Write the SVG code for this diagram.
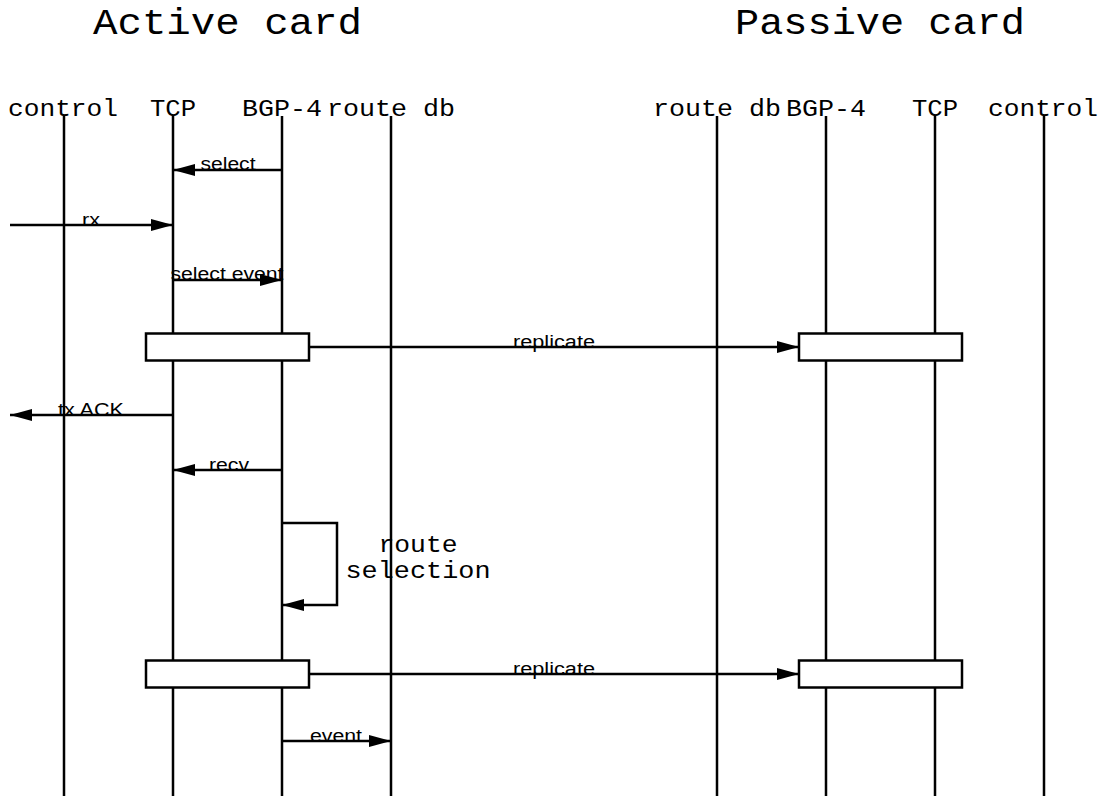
<svg xmlns="http://www.w3.org/2000/svg" width="1105" height="796" viewBox="0 0 1105 796">
<defs>
<marker id="ah" markerWidth="22" markerHeight="12" refX="22" refY="6" orient="auto" markerUnits="userSpaceOnUse">
<path d="M0,0 L22,6 L0,12 Z" fill="#000"/>
</marker>
<style>
.title{font-family:"Liberation Mono",monospace;font-size:37px;fill:#000;text-anchor:middle}
.lbl{font-family:"Liberation Mono",monospace;font-size:24px;fill:#000;text-anchor:middle}
.msg{font-family:"Liberation Sans",Arial,sans-serif;font-size:18px;fill:#000;text-anchor:middle}
.life{stroke:#000;stroke-width:2.5;fill:none}
.arr{stroke:#000;stroke-width:2.5;fill:none;marker-end:url(#ah)}
.box{stroke:#000;stroke-width:2.5;fill:#fff}
</style>
</defs>
<rect width="1105" height="796" fill="#fff"/>
<text class="title" x="227.5" y="34" textLength="269" lengthAdjust="spacingAndGlyphs">Active card</text>
<text class="title" x="880" y="34" textLength="290" lengthAdjust="spacingAndGlyphs">Passive card</text>

<g id="lifelines">
<g id="a-control"><line class="life" x1="64" y1="116" x2="64" y2="796"/><text class="lbl" x="63" y="116" textLength="110" lengthAdjust="spacingAndGlyphs">control</text></g>
<g id="a-tcp"><line class="life" x1="173" y1="116" x2="173" y2="796"/><text class="lbl" x="173" y="116" textLength="46" lengthAdjust="spacingAndGlyphs">TCP</text></g>
<g id="a-bgp"><line class="life" x1="282" y1="116" x2="282" y2="796"/><text class="lbl" x="282" y="116" textLength="80" lengthAdjust="spacingAndGlyphs">BGP-4</text></g>
<g id="a-routedb"><line class="life" x1="391" y1="116" x2="391" y2="796"/><text class="lbl" x="391" y="116" textLength="128" lengthAdjust="spacingAndGlyphs">route db</text></g>
<g id="p-routedb"><line class="life" x1="717" y1="116" x2="717" y2="796"/><text class="lbl" x="717" y="116" textLength="128" lengthAdjust="spacingAndGlyphs">route db</text></g>
<g id="p-bgp"><line class="life" x1="826" y1="116" x2="826" y2="796"/><text class="lbl" x="826" y="116" textLength="80" lengthAdjust="spacingAndGlyphs">BGP-4</text></g>
<g id="p-tcp"><line class="life" x1="935" y1="116" x2="935" y2="796"/><text class="lbl" x="935" y="116" textLength="46" lengthAdjust="spacingAndGlyphs">TCP</text></g>
<g id="p-control"><line class="life" x1="1044" y1="116" x2="1044" y2="796"/><text class="lbl" x="1043" y="116" textLength="110" lengthAdjust="spacingAndGlyphs">control</text></g>
</g>

<g id="boxes">
<g id="box-a1"><rect class="box" x="146" y="333.5" width="163" height="27"/></g>
<g id="box-p1"><rect class="box" x="799" y="333.5" width="163" height="27"/></g>
<g id="box-a2"><rect class="box" x="146" y="660.5" width="163" height="27"/></g>
<g id="box-p2"><rect class="box" x="799" y="660.5" width="163" height="27"/></g>
</g>

<g id="connectors">
<line class="arr" x1="282" y1="170" x2="173" y2="170"/>
<text class="msg" x="228" y="170" textLength="55" lengthAdjust="spacingAndGlyphs">select</text>
<line class="arr" x1="10" y1="225" x2="173" y2="225"/>
<text class="msg" x="91" y="226" textLength="18" lengthAdjust="spacingAndGlyphs">rx</text>
<line class="arr" x1="173" y1="280" x2="282" y2="280"/>
<text class="msg" x="227" y="280" textLength="113" lengthAdjust="spacingAndGlyphs">select event</text>
<line class="arr" x1="309" y1="347" x2="799" y2="347"/>
<text class="msg" x="554" y="348" textLength="82" lengthAdjust="spacingAndGlyphs">replicate</text>
<line class="arr" x1="173" y1="415" x2="10" y2="415"/>
<text class="msg" x="91" y="416" textLength="66" lengthAdjust="spacingAndGlyphs">tx ACK</text>
<line class="arr" x1="282" y1="470" x2="173" y2="470"/>
<text class="msg" x="229" y="471" textLength="40" lengthAdjust="spacingAndGlyphs">recv</text>
<polyline class="arr" points="282,523 337,523 337,605 282,605"/>
<text class="lbl" x="418" y="552" textLength="79" lengthAdjust="spacingAndGlyphs">route</text>
<text class="lbl" x="418" y="578" textLength="145" lengthAdjust="spacingAndGlyphs">selection</text>
<line class="arr" x1="309" y1="674" x2="799" y2="674"/>
<text class="msg" x="554" y="675" textLength="82" lengthAdjust="spacingAndGlyphs">replicate</text>
<line class="arr" x1="282" y1="741" x2="391" y2="741"/>
<text class="msg" x="336" y="742" textLength="52" lengthAdjust="spacingAndGlyphs">event</text>
</g>
</svg>
